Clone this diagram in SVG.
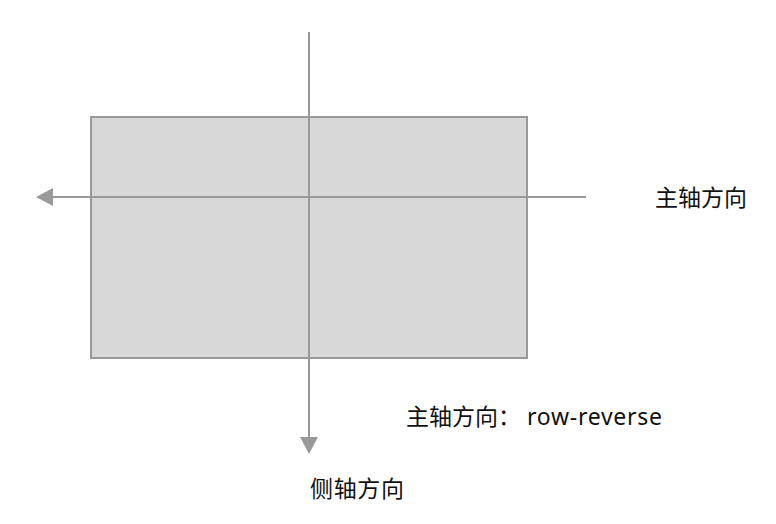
<svg xmlns="http://www.w3.org/2000/svg" width="776" height="524" viewBox="0 0 776 524">
  <style>
    .axis { stroke: #999999; stroke-width: 2; fill: none; }
    .head { fill: #999999; stroke: none; }
    .lbl { font-family: "Noto Sans", "Noto Sans CJK SC", sans-serif; font-size: 23px; fill: #111111; }
  </style>
  <rect width="776" height="524" fill="#ffffff"/>
  <g id="box">
    <rect x="91" y="117" width="436" height="241" fill="#d8d8d8" stroke="#999999" stroke-width="2"/>
  </g>
  <g id="connectors">
    <line class="axis" x1="586" y1="197" x2="50" y2="197"/>
    <polygon class="head" points="36,197 53,188 53,206"/>
    <line class="axis" x1="309" y1="32" x2="309" y2="439"/>
    <polygon class="head" points="309,454 300,437 318,437"/>
  </g>
  <g id="label-main">
    <text class="lbl" x="655" y="206" textLength="92">主轴方向</text>
  </g>
  <g id="label-cross">
    <text class="lbl" x="310" y="497" textLength="94">侧轴方向</text>
  </g>
  <g id="label-direction">
    <text class="lbl" x="406" y="425"><tspan textLength="92">主轴方向</tspan>：<tspan x="527" textLength="135" lengthAdjust="spacing">row-reverse</tspan></text>
  </g>
</svg>
